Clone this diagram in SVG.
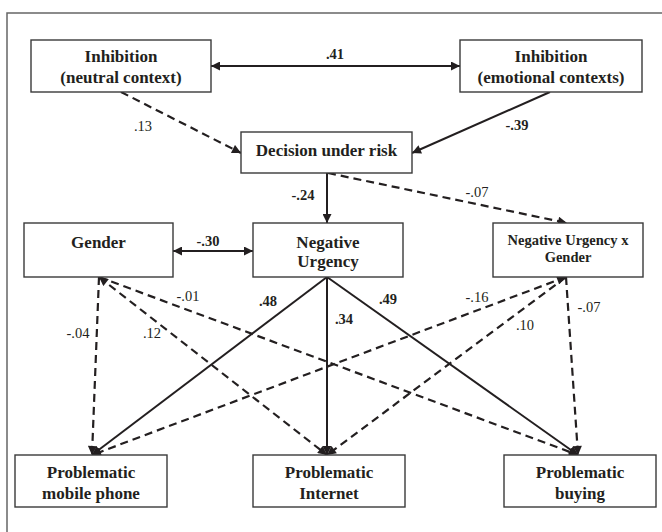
<svg xmlns="http://www.w3.org/2000/svg" width="662" height="532" viewBox="0 0 662 532">
<style>
.box{fill:#fff;stroke:#3a3a3a;stroke-width:1.4}
.t{font-family:"Liberation Serif","Times New Roman",serif;font-weight:bold;font-size:17px;fill:#231f20;text-anchor:middle}
.ts{font-size:14.5px}
.c{font-family:"Liberation Serif","Times New Roman",serif;font-size:14.5px;fill:#231f20;text-anchor:middle}
.cb{font-weight:bold}
.s{stroke:#231f20;stroke-width:2;fill:none}
.d{stroke:#231f20;stroke-width:2.2;fill:none;stroke-dasharray:8 5}
</style>
<defs>
<marker id="ah" viewBox="0 0 10 10" refX="10" refY="5" markerWidth="11" markerHeight="9" markerUnits="userSpaceOnUse" orient="auto-start-reverse">
<path d="M0,0 L10,5 L0,10 z" fill="#231f20"/>
</marker>
</defs>
<rect x="7" y="13" width="700" height="600" fill="none" stroke="#666" stroke-width="1.5"/>
<g id="connectors">
<line class="s" x1="211" y1="66" x2="460" y2="66" marker-start="url(#ah)" marker-end="url(#ah)"/>
<line class="d" x1="121" y1="92" x2="241" y2="153" marker-end="url(#ah)"/>
<line class="s" x1="550" y1="92" x2="412" y2="153" marker-end="url(#ah)"/>
<line class="s" x1="327" y1="173" x2="327" y2="223" marker-end="url(#ah)"/>
<line class="d" x1="328" y1="173" x2="567" y2="223" marker-end="url(#ah)"/>
<line class="s" x1="173" y1="251" x2="253" y2="251" marker-start="url(#ah)" marker-end="url(#ah)"/>
<line class="s" x1="327" y1="277" x2="92" y2="455" marker-end="url(#ah)"/>
<line class="s" x1="327" y1="277" x2="327" y2="455" marker-end="url(#ah)"/>
<line class="s" x1="327" y1="277" x2="578" y2="455" marker-end="url(#ah)"/>
<line class="d" x1="99" y1="277" x2="92" y2="455" marker-end="url(#ah)"/>
<line class="d" x1="99" y1="277" x2="327" y2="455" marker-start="url(#ah)" marker-end="url(#ah)"/>
<line class="d" x1="99" y1="277" x2="578" y2="455" marker-end="url(#ah)"/>
<line class="d" x1="566" y1="277" x2="92" y2="455" marker-start="url(#ah)" marker-end="url(#ah)"/>
<line class="d" x1="566" y1="277" x2="327" y2="455" marker-end="url(#ah)"/>
<line class="d" x1="566" y1="277" x2="578" y2="455" marker-end="url(#ah)"/>
</g>
<g id="labels">
<text class="c cb" x="335" y="59">.41</text>
<text class="c" x="143" y="131">.13</text>
<text class="c cb" x="517" y="130">-.39</text>
<text class="c cb" x="303" y="200">-.24</text>
<text class="c" x="477" y="197">-.07</text>
<text class="c cb" x="208" y="246">-.30</text>
<text class="c" x="188" y="301">-.01</text>
<text class="c cb" x="268" y="306">.48</text>
<text class="c" x="78" y="338">-.04</text>
<text class="c" x="152" y="338">.12</text>
<text class="c cb" x="344" y="324">.34</text>
<text class="c cb" x="388" y="304">.49</text>
<text class="c" x="477" y="302">-.16</text>
<text class="c" x="525" y="330">.10</text>
<text class="c" x="589" y="312">-.07</text>
</g>
<g id="inh_neutral">
<rect class="box" x="31" y="40" width="180" height="52"/>
<text class="t" x="121" y="62">Inhibition</text>
<text class="t" x="121" y="83">(neutral context)</text>
</g>
<g id="inh_emotional">
<rect class="box" x="460" y="40" width="182" height="52"/>
<text class="t" x="551" y="62">Inhibition</text>
<text class="t" x="551" y="83">(emotional contexts)</text>
</g>
<g id="decision">
<rect class="box" x="241" y="132" width="171" height="41"/>
<text class="t" x="326.5" y="156">Decision under risk</text>
</g>
<g id="gender">
<rect class="box" x="24" y="223" width="149" height="54"/>
<text class="t" x="98.5" y="248">Gender</text>
</g>
<g id="neg_urgency">
<rect class="box" x="253" y="223" width="150" height="54"/>
<text class="t" x="328" y="248">Negative</text>
<text class="t" x="328" y="267">Urgency</text>
</g>
<g id="nu_gender">
<rect class="box" x="493" y="223" width="150" height="54"/>
<text class="t ts" x="568" y="245">Negative Urgency x</text>
<text class="t ts" x="568" y="262">Gender</text>
</g>
<g id="prob_mobile">
<rect class="box" x="15" y="455" width="152" height="52"/>
<text class="t" x="91" y="478">Problematic</text>
<text class="t" x="91" y="499">mobile phone</text>
</g>
<g id="prob_internet">
<rect class="box" x="253" y="455" width="152" height="52"/>
<text class="t" x="329" y="478">Problematic</text>
<text class="t" x="329" y="499">Internet</text>
</g>
<g id="prob_buying">
<rect class="box" x="504" y="455" width="152" height="52"/>
<text class="t" x="580" y="478">Problematic</text>
<text class="t" x="580" y="499">buying</text>
</g>
</svg>
